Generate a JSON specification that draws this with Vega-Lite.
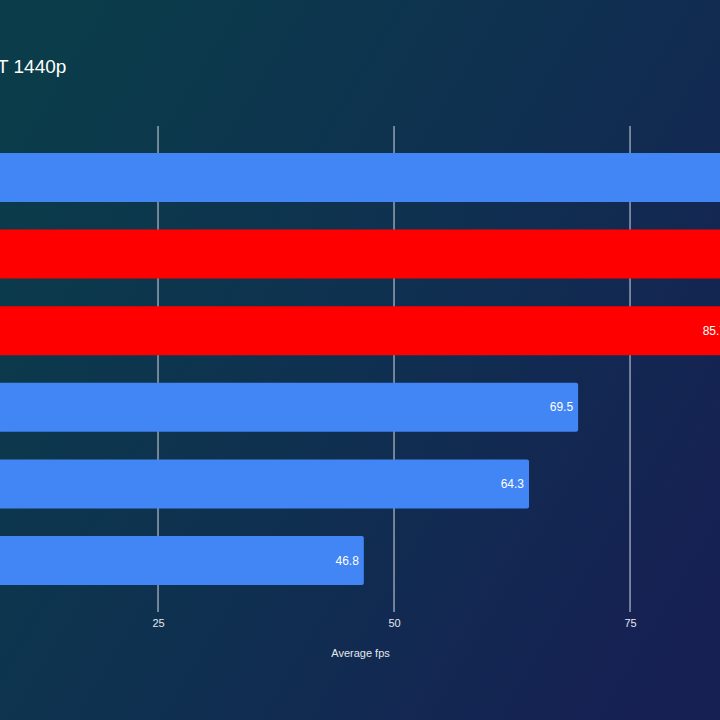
{
  "$schema": "https://vega.github.io/schema/vega-lite/v6.json",
  "width": 720,
  "height": 486,
  "autosize": {"type": "none"},
  "padding": {"top": 126, "left": 0, "right": 0, "bottom": 108},
  "background": "#10304f",
  "title": {
    "text": "T 1440p",
    "anchor": "start",
    "frame": "group",
    "font": "Liberation Sans",
    "fontSize": 19,
    "fontWeight": "normal",
    "color": "#ffffff",
    "baseline": "alphabetic",
    "offset": -92,
    "dx": -3,
    "zindex": 2
  },
  "data": {
    "values": [
      {"gpu": "RTX 4080", "fps": 92.4, "brand": "Nvidia"},
      {"gpu": "RX 7900 XTX", "fps": 88.6, "brand": "AMD"},
      {"gpu": "RX 7900 XT", "fps": 85.7, "brand": "AMD"},
      {"gpu": "RTX 4070 Ti", "fps": 69.5, "brand": "Nvidia"},
      {"gpu": "RTX 3080", "fps": 64.3, "brand": "Nvidia"},
      {"gpu": "RTX 3070", "fps": 46.8, "brand": "Nvidia"}
    ]
  },
  "resolve": {"scale": {"y": "independent"}},
  "layer": [
    {
      "mark": {
        "type": "rect",
        "clip": false,
        "fill": {
          "gradient": "linear",
          "x1": 0, "y1": 0.2, "x2": 1, "y2": 0.8,
          "stops": [
            {"offset": 0, "color": "#0a3c4a"},
            {"offset": 0.5, "color": "#0f3050"},
            {"offset": 1, "color": "#162053"}
          ]
        }
      },
      "encoding": {
        "x": {"datum": 8.26, "type": "quantitative", "scale": {"domain": [8.26, 84.53], "nice": false, "zero": false}},
        "x2": {"datum": 84.53},
        "y": {"datum": 1.2593, "type": "quantitative", "scale": {"domain": [0, 1], "nice": false, "zero": false}, "axis": null},
        "y2": {"datum": -0.2222}
      }
    },
    {
      "data": {"values": [{"t": 25}, {"t": 50}, {"t": 75}]},
      "mark": {"type": "rule", "color": "#c3c9d6", "strokeWidth": 1.3, "opacity": 0.85},
      "encoding": {
        "x": {"field": "t", "type": "quantitative"}
      }
    },
    {
      "encoding": {
        "y": {
          "field": "gpu",
          "type": "nominal",
          "sort": null,
          "scale": {"paddingInner": 0.36, "paddingOuter": 0.352},
          "axis": null
        }
      },
      "layer": [
        {
          "mark": {"type": "bar", "cornerRadius": 2, "clip": true},
          "encoding": {
            "x": {
              "field": "fps",
              "type": "quantitative",
              "axis": {
                "values": [25, 50, 75],
                "title": "Average fps",
                "grid": false,
                "domain": false,
                "ticks": false,
                "zindex": 1,
                "labelFont": "Liberation Sans",
                "labelFontSize": 11,
                "labelColor": "#e4e7ee",
                "labelPadding": 5,
                "titleFont": "Liberation Sans",
                "titleFontSize": 11,
                "titleFontWeight": "normal",
                "titleColor": "#e4e7ee",
                "titlePadding": 19
              }
            },
            "x2": {"datum": 0},
            "color": {
              "field": "brand",
              "type": "nominal",
              "scale": {"domain": ["Nvidia", "AMD"], "range": ["#4285f4", "#ff0000"]},
              "legend": null
            }
          }
        },
        {
          "mark": {
            "type": "text",
            "align": "right",
            "baseline": "middle",
            "dx": -5,
            "font": "Liberation Sans",
            "fontSize": 12,
            "color": "#ffffff"
          },
          "encoding": {
            "x": {"field": "fps", "type": "quantitative"},
            "text": {"field": "fps", "type": "quantitative", "format": ".1f"}
          }
        }
      ]
    }
  ]
}
